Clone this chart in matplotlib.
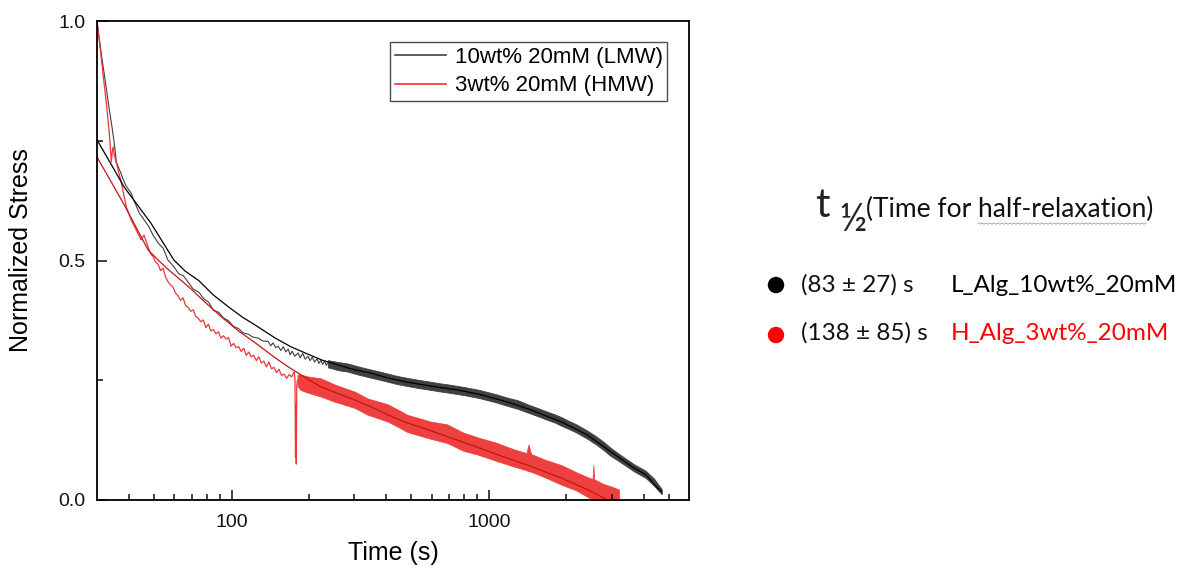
import numpy as np
import matplotlib
matplotlib.use("Agg")
import matplotlib.pyplot as plt
from matplotlib.ticker import FixedLocator, FixedFormatter, NullFormatter

# ---------------- data ----------------
# LMW (10wt% 20mM): sparse early part of the measured curve
lmw_early_t = [30.0, 31.2, 32.6, 33.5, 34.4, 35.0, 35.7, 37.3, 38.0, 39.0, 40.7, 42.0,
               43.8, 45.7, 47.8, 49.5, 51.8, 53.2, 54.2, 56.6, 59.7, 62.4, 65.0, 68.2,
               71.0, 74.6, 78.0, 81.5, 85.0, 89.1, 93.0, 97.4, 102.0, 106.4, 111.0,
               116.3, 121.0, 127.1, 132.0, 138.9, 142.0, 145.0, 148.5, 151.9, 155.5, 159.0,
               162.5, 166.0, 169.0, 172.0, 176.0, 181.4, 185.0, 189.0, 193.5, 198.3, 202.0,
               206.0, 210.5, 215.0, 218.5, 222.6, 226.0, 230.0, 233.5, 236.9]
lmw_early_v = [1.000, 0.930, 0.860, 0.815, 0.775, 0.745, 0.705, 0.680, 0.668, 0.655, 0.641, 0.622,
               0.599, 0.585, 0.570, 0.553, 0.537, 0.530, 0.526, 0.501, 0.487, 0.472, 0.468, 0.453,
               0.440, 0.434, 0.420, 0.413, 0.396, 0.392, 0.380, 0.374, 0.362, 0.358, 0.349,
               0.346, 0.340, 0.338, 0.332, 0.331, 0.322, 0.328, 0.318, 0.321, 0.312, 0.320,
               0.309, 0.315, 0.303, 0.311, 0.300, 0.307, 0.297, 0.306, 0.294, 0.300, 0.291,
               0.298, 0.288, 0.295, 0.285, 0.292, 0.283, 0.290, 0.281, 0.287]
# LMW dense part: envelope of the noisy record
lmw_band_t = [236.9, 260, 283, 310, 338, 370, 404, 440, 482, 530, 592, 640, 700, 800,
              915, 1064, 1174, 1300, 1427, 1550, 1675, 1800, 1914, 2050, 2187, 2412,
              2612, 2800, 2958, 3290, 3662, 4074, 4400, 4533, 4700]
lmw_band_hi = [0.292, 0.288, 0.285, 0.279, 0.274, 0.269, 0.264, 0.259, 0.255, 0.251, 0.247,
               0.244, 0.241, 0.236, 0.230, 0.221, 0.214, 0.208, 0.199, 0.192, 0.185, 0.179,
               0.173, 0.165, 0.158, 0.145, 0.133, 0.121, 0.110, 0.092, 0.075, 0.061, 0.044,
               0.034, 0.023]
lmw_band_lo = [0.277, 0.271, 0.268, 0.262, 0.257, 0.252, 0.247, 0.242, 0.238, 0.234, 0.230,
               0.227, 0.224, 0.219, 0.213, 0.204, 0.197, 0.190, 0.182, 0.175, 0.168, 0.162,
               0.155, 0.148, 0.141, 0.128, 0.116, 0.104, 0.093, 0.077, 0.060, 0.046, 0.029,
               0.021, 0.012]
# LMW fitted relaxation curve
lmw_fit_t = [30.0, 38.3, 48.6, 59.7, 66.0, 74.6, 85.0, 97.4, 110.0, 123.8, 147.9, 170.0,
             193.1, 225.0, 258.9, 300.0, 347.0, 404.0, 482.0, 592.0, 750.0, 915.0, 1174.0,
             1427.0, 1914.0, 2412.0, 2958.0, 3662.0, 4074.0, 4533.0, 4700.0]
lmw_fit_v = [0.752, 0.653, 0.578, 0.501, 0.478, 0.458, 0.428, 0.403, 0.382, 0.365, 0.338, 0.320,
             0.307, 0.292, 0.282, 0.272, 0.265, 0.255, 0.246, 0.238, 0.230, 0.221, 0.205,
             0.190, 0.163, 0.136, 0.102, 0.067, 0.053, 0.025, 0.017]

# HMW (3wt% 20mM): early part of the measured curve, including the dip near 178 s
hmw_early_t = [30.0, 31.2, 32.6, 33.5, 34.1, 34.4, 34.7, 35.0, 35.7, 36.6, 37.3, 39.0,
               40.7, 42.6, 44.5, 45.7, 47.4, 48.5, 49.5, 50.6, 51.8, 53.0, 54.2, 55.4,
               56.6, 57.9, 59.2, 60.6, 62.0, 63.4, 64.8, 66.3, 67.8, 69.4, 71.0, 72.6,
               74.2, 75.9, 77.7, 79.5, 81.3, 83.1, 85.0, 87.0, 89.0, 91.0, 93.1, 95.2,
               97.4, 99.6, 101.9, 104.2, 106.6, 109.0, 111.5, 114.1, 116.7, 119.3, 122.0,
               124.8, 127.7, 130.6, 133.6, 136.6, 139.8, 143.0, 146.2, 149.6, 153.0, 156.5,
               160.0, 163.7, 167.5, 171.3, 175.2, 176.5, 177.3, 177.8, 178.5, 179.3, 180.5]
hmw_early_v = [1.000, 0.920, 0.830, 0.765, 0.706, 0.728, 0.737, 0.720, 0.703, 0.680, 0.662, 0.612,
               0.585, 0.564, 0.543, 0.553, 0.528, 0.514, 0.509, 0.497, 0.492, 0.479, 0.484, 0.466,
               0.456, 0.449, 0.445, 0.432, 0.426, 0.417, 0.422, 0.406, 0.402, 0.394, 0.397, 0.383,
               0.380, 0.372, 0.376, 0.360, 0.367, 0.353, 0.356, 0.347, 0.351, 0.338, 0.343, 0.336,
               0.339, 0.321, 0.327, 0.318, 0.320, 0.310, 0.317, 0.302, 0.309, 0.299, 0.302,
               0.291, 0.299, 0.286, 0.290, 0.278, 0.288, 0.274, 0.277, 0.266, 0.273, 0.260,
               0.263, 0.254, 0.262, 0.257, 0.268, 0.250, 0.090, 0.200, 0.075, 0.240, 0.250]
# HMW dense part: envelope of the noisy record
hmw_band_t = [180.5, 185.0, 198.0, 222.6, 252.0, 302.0, 338.0, 404.0, 453.0, 482.0, 592.0,
              688.0, 794.0, 915.0, 1064.0, 1250.0, 1400.0, 1427.0, 1460.0, 1675.0, 1914.0,
              2187.0, 2412.0, 2530.0, 2550.0, 2570.0, 2805.0, 3000.0, 3205.0]
hmw_band_hi = [0.262, 0.262, 0.258, 0.254, 0.241, 0.226, 0.212, 0.200, 0.186, 0.178, 0.164,
               0.158, 0.141, 0.130, 0.120, 0.106, 0.098, 0.116, 0.096, 0.083, 0.073, 0.058,
               0.048, 0.044, 0.073, 0.043, 0.033, 0.028, 0.022]
hmw_band_lo = [0.238, 0.230, 0.224, 0.216, 0.205, 0.192, 0.178, 0.164, 0.150, 0.142, 0.128,
               0.119, 0.103, 0.094, 0.082, 0.070, 0.062, 0.060, 0.059, 0.046, 0.032, 0.020,
               0.007, 0.000, -0.003, -0.002, -0.020, -0.030, -0.030]
# HMW fitted relaxation curve
hmw_fit_t = [30.0, 38.3, 47.4, 51.8, 57.1, 68.2, 80.0, 91.5, 107.0, 123.8, 145.0, 166.0,
             193.0, 222.6, 260.0, 301.0, 347.0, 404.0, 482.0, 592.0, 794.0, 1064.0, 1427.0,
             1914.0, 2412.0, 2805.0, 2950.0]
hmw_fit_v = [0.716, 0.616, 0.522, 0.501, 0.480, 0.445, 0.410, 0.382, 0.352, 0.328, 0.300, 0.278,
             0.256, 0.236, 0.222, 0.209, 0.195, 0.178, 0.161, 0.145, 0.121, 0.096, 0.072,
             0.046, 0.022, 0.004, -0.004]

series_labels = ["10wt% 20mM (LMW)", "3wt% 20mM (HMW)"]
x_ticks = [100, 1000]
x_tick_labels = ["100", "1000"]
x_minor = [40, 50, 60, 70, 80, 90, 200, 300, 400, 500, 600, 700, 800, 900,
           2000, 3000, 4000, 5000]
y_ticks = [0.0, 0.5, 1.0]
y_tick_labels = ["0.0", "0.5", "1.0"]
y_minor = [0.25, 0.75]

half_times = ["(83 ± 27) s", "(138 ± 85) s"]
sample_names = ["L_Alg_10wt%_20mM", "H_Alg_3wt%_20mM"]

# ---------------- styling ----------------
W, H = 1189, 572
C_LMW_DATA = "#404040"
C_LMW_FIT = "#000000"
C_HMW_DATA = "#ef3535"
C_HMW_FIT = "#c41414"
MAIN_FONT = ["Liberation Sans", "DejaVu Sans"]
SIDE_FONT = ["Lato", "DejaVu Sans"]

plt.rcParams["font.family"] = MAIN_FONT

fig = plt.figure(figsize=(W / 100, H / 100), dpi=100)
fig.patch.set_facecolor("white")

ax = fig.add_axes([97 / W, 1 - 500 / H, (689 - 97) / W, (500 - 21) / H])
ax.set_xscale("log")
ax.set_xlim(30, 6000)
ax.set_ylim(0, 1.0)

# measured data
l_lmw, = ax.plot(lmw_early_t, lmw_early_v, color=C_LMW_DATA, lw=0.8)
ax.fill_between(lmw_band_t, lmw_band_lo, lmw_band_hi, color=C_LMW_DATA, lw=0.6,
                edgecolor=C_LMW_DATA)
l_hmw, = ax.plot(hmw_early_t, hmw_early_v, color=C_HMW_DATA, lw=0.9)
ax.fill_between(hmw_band_t, hmw_band_lo, hmw_band_hi, color=C_HMW_DATA, lw=0.5,
                edgecolor=C_HMW_DATA, alpha=0.95)

# fitted curves
ax.plot(lmw_fit_t, lmw_fit_v, color=C_LMW_FIT, lw=0.9)
ax.plot(hmw_fit_t, hmw_fit_v, color=C_HMW_FIT, lw=0.9)

# axes styling
for s in ax.spines.values():
    s.set_linewidth(1.3)
ax.xaxis.set_major_locator(FixedLocator(x_ticks))
ax.xaxis.set_major_formatter(FixedFormatter(x_tick_labels))
ax.xaxis.set_minor_locator(FixedLocator(x_minor))
ax.xaxis.set_minor_formatter(NullFormatter())
ax.yaxis.set_major_locator(FixedLocator(y_ticks))
ax.yaxis.set_major_formatter(FixedFormatter(y_tick_labels))
ax.yaxis.set_minor_locator(FixedLocator(y_minor))
ax.tick_params(which="both", direction="in", top=False, right=False, width=1.1,
               labelsize=14, colors="#111111")
ax.tick_params(which="major", length=7)
ax.tick_params(which="minor", length=4)
ax.tick_params(axis="y", which="major", pad=8.5)
ax.tick_params(axis="x", which="major", pad=10)

ax.set_xlabel("Time (s)", fontsize=18)
ax.set_ylabel("Normalized Stress", fontsize=18)
ax.xaxis.set_label_coords(0.5, -0.085)
ax.yaxis.set_label_coords(-0.108, 0.522)

leg = ax.legend([l_lmw, l_hmw], series_labels, loc="upper right",
                bbox_to_anchor=(0.963, 0.956), borderaxespad=0, fontsize=16,
                frameon=True, fancybox=False, handlelength=2.3, handletextpad=0.4,
                borderpad=0.2, labelspacing=0.35)
leg.get_frame().set_edgecolor("#222222")
leg.get_frame().set_linewidth(1.0)
for ln in leg.get_lines():
    ln.set_linewidth(1.2)

# ---------------- side annotation (pixel coordinates) ----------------
ov = fig.add_axes([0, 0, 1, 1], zorder=5)
ov.set_xlim(0, W)
ov.set_ylim(H, 0)
ov.axis("off")

HEAD_SIZE = 19
ROW_SIZE = 17.5
ov.text(815, 217, "t", fontsize=29, family=SIDE_FONT, va="baseline", ha="left", color="#222222")
ov.text(839, 231, "½", fontsize=27, family=SIDE_FONT, va="baseline", ha="left", color="#222222")
ov.text(866, 217, "(Time for half-relaxation)", fontsize=HEAD_SIZE, family=SIDE_FONT,
        va="baseline", ha="left", color="#111111")

row_y = [292, 340]
dot_y = [285, 335]
row_colors = ["#000000", "#ff0000"]
ov.scatter([776, 776], dot_y, s=140, c=row_colors, edgecolors="none")
for i in range(2):
    ov.text(801, row_y[i], half_times[i], fontsize=ROW_SIZE, family=SIDE_FONT,
            va="baseline", ha="left", color="#111111")
    ov.text(951, row_y[i], sample_names[i], fontsize=ROW_SIZE, family=SIDE_FONT,
            va="baseline", ha="left", color=row_colors[i])

# spell-check style wavy underline under "half-relaxation"
fig.canvas.draw()
rend = fig.canvas.get_renderer()


def text_width(s):
    t = ov.text(0, 0, s, fontsize=HEAD_SIZE, family=SIDE_FONT)
    w = t.get_window_extent(rend).width
    t.remove()
    return w


full_w = text_width("(Time for half-relaxation)")
word_w = text_width("half-relaxation")
close_w = text_width(")")
x_right = 866 + full_w - close_w
x_left = x_right - word_w
zx = np.arange(x_left, x_right, 2.0)
zy = 223 + 1.2 * (np.arange(len(zx)) % 2)
ov.plot(zx, zy, color="#e06060", lw=0.6, alpha=0.8)

fig.savefig("out.png", dpi=100, facecolor="white")
